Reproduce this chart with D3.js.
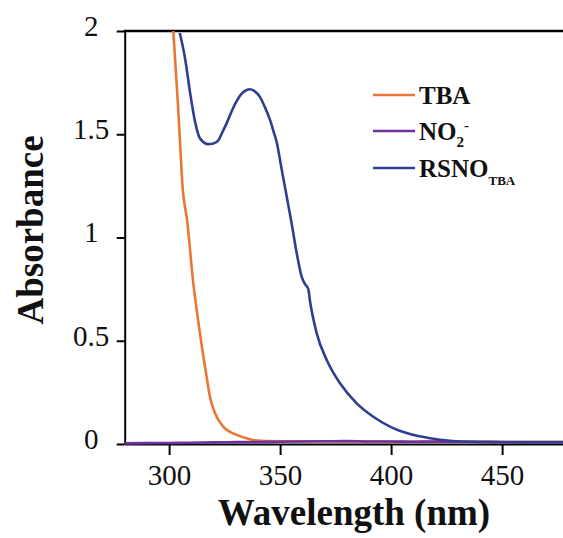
<!DOCTYPE html>
<html>
<head>
<meta charset="utf-8">
<script src="https://cdn.jsdelivr.net/npm/d3@7"></script>
</head>
<body style="margin:0">
<script>
// UV-vis spectra

// TBA (orange)
var tbaWavelength = [301.9, 304.0, 305.6, 306.0, 306.7, 307.9, 310.9, 313.9, 316.9, 318.4, 320.7, 324.4,
                     330.5, 336.4, 340.9, 360, 400, 440, 480];
var tbaAbs = [2.0, 1.641, 1.326, 1.254, 1.181, 1.100, 0.778, 0.536, 0.326, 0.229, 0.149, 0.084,
              0.044, 0.023, 0.016, 0.013, 0.011, 0.010, 0.010];

// NO2- (purple), almost flat near zero
var no2Wavelength = [280, 290, 300, 310, 320, 330, 340, 350, 360, 370, 380, 390, 400, 410, 420, 430, 440, 450, 460, 470, 480];
var no2Abs = [0.003, 0.004, 0.005, 0.006, 0.008, 0.009, 0.010, 0.011, 0.012, 0.013, 0.014, 0.012, 0.012,
              0.011, 0.012, 0.011, 0.011, 0.010, 0.010, 0.010, 0.010];

// RSNO_TBA (blue)
var rsnoWavelength = [304.8, 307.2, 309.4, 311.7, 313.9, 317.7, 320.0, 322.2, 324.0, 326.0, 328.0, 330.0,
                      332.0, 334.0, 336.4, 338.3, 340.9, 343.0, 345.5, 347.0, 348.5, 350.7, 353.0, 355.2,
                      357.5, 359.7, 361.2, 362.7, 363.5, 366.5, 371.0, 377.0, 384.5, 392.0, 399.5, 408.5,
                      417.5, 426.5, 440, 460, 480];
var rsnoAbs = [1.99, 1.867, 1.705, 1.560, 1.480, 1.452, 1.455, 1.471, 1.510, 1.555, 1.607, 1.652,
               1.688, 1.709, 1.718, 1.710, 1.681, 1.635, 1.568, 1.515, 1.460, 1.330, 1.197, 1.068,
               0.923, 0.810, 0.775, 0.750, 0.690, 0.536, 0.407, 0.294, 0.197, 0.132, 0.084, 0.048,
               0.028, 0.016, 0.010, 0.008, 0.008];

var xTicks = [300, 350, 400, 450];
var yTicks = [0, 0.5, 1, 1.5, 2];

var seriesNames = ["TBA", "NO2-", "RSNO_TBA"];
var seriesColors = ["#EB7535", "#7030A0", "#2F3E8F"];

var fontName = "'Liberation Serif'";

function zip(xs, ys) {
  return xs.map(function(x, i) { return [x, ys[i]]; });
}

var svgWidth = 563, svgHeight = 538;
var plotLeft = 124.7, plotTop = 31, plotBottom = 444, plotRight = 568.7;

var svg = d3.select("body")
            .append("svg")
            .attr("width", svgWidth)
            .attr("height", svgHeight)
            .style("display", "block")
            .style("font-family", fontName);

var xScale = d3.scaleLinear().domain([280, 480]).range([plotLeft, plotRight]);
var yScale = d3.scaleLinear().domain([0, 2]).range([plotBottom, plotTop]);

// clip lines to plot box
svg.append("clipPath")
   .attr("id", "plotclip")
   .append("rect")
   .attr("x", plotLeft)
   .attr("y", plotTop)
   .attr("width", plotRight - plotLeft)
   .attr("height", plotBottom - plotTop + 2);

// x axis
var xAxis = svg.append("g")
   .attr("transform", "translate(0," + plotBottom + ")")
   .call(d3.axisBottom(xScale).tickValues(xTicks).tickSize(11).tickSizeOuter(0));
xAxis.attr("font-family", null).attr("font-size", null);
xAxis.select(".domain").attr("stroke-width", 2);
xAxis.selectAll(".tick line").attr("stroke-width", 2);
xAxis.selectAll("text")
   .attr("y", 41)
   .attr("dy", null)
   .style("font-family", fontName)
   .style("font-size", "29px")
   .attr("fill", "#111");

// y axis
var yAxis = svg.append("g")
   .attr("transform", "translate(" + plotLeft + ",0)")
   .call(d3.axisLeft(yScale).tickValues(yTicks).tickSize(8).tickSizeOuter(0)
           .tickFormat(function(d) { return String(d); }));
yAxis.attr("font-family", null).attr("font-size", null);
yAxis.select(".domain").attr("stroke-width", 2);
yAxis.selectAll(".tick line").attr("stroke-width", 2);
yAxis.selectAll("text")
   .attr("x", -33.5)
   .attr("dy", "0.15em")
   .attr("text-anchor", "middle")
   .style("font-family", fontName)
   .style("font-size", "29px")
   .attr("fill", "#111");

// top border
svg.append("line")
   .attr("x1", plotLeft - 1).attr("x2", svgWidth)
   .attr("y1", plotTop).attr("y2", plotTop)
   .attr("stroke", "#000")
   .attr("stroke-width", 2.5);

// spectra
var line = d3.line()
   .x(function(d) { return xScale(d[0]); })
   .y(function(d) { return yScale(d[1]); })
   .curve(d3.curveMonotoneX);

var spectra = [zip(tbaWavelength, tbaAbs), zip(no2Wavelength, no2Abs), zip(rsnoWavelength, rsnoAbs)];

svg.append("g")
   .attr("clip-path", "url(#plotclip)")
   .selectAll("path")
   .data(spectra)
   .enter()
   .append("path")
   .attr("d", line)
   .attr("fill", "none")
   .attr("stroke", function(d, i) { return seriesColors[i]; })
   .attr("stroke-width", 2.6)
   .attr("stroke-linejoin", "round");

// axis titles
svg.append("text")
   .attr("x", 354)
   .attr("y", 525)
   .attr("text-anchor", "middle")
   .style("font-family", fontName)
   .attr("font-size", 37)
   .attr("font-weight", "bold")
   .attr("fill", "#111")
   .text("Wavelength (nm)");

svg.append("text")
   .attr("transform", "translate(43,230) rotate(-90)")
   .attr("text-anchor", "middle")
   .style("font-family", fontName)
   .attr("font-size", 37)
   .attr("font-weight", "bold")
   .attr("fill", "#111")
   .text("Absorbance");

// legend
var legendY = [95, 131, 168];
var legend = svg.append("g");
seriesNames.forEach(function(name, i) {
  legend.append("line")
    .attr("x1", 373).attr("x2", 415)
    .attr("y1", legendY[i]).attr("y2", legendY[i])
    .attr("stroke", seriesColors[i])
    .attr("stroke-width", 2.6);
});

function legendText(y) {
  return legend.append("text")
    .attr("x", 419).attr("y", y)
    .style("font-family", fontName)
    .attr("font-size", 25)
    .attr("font-weight", "bold")
    .attr("fill", "#111");
}

legendText(legendY[0] + 8.5).append("tspan").text("TBA");

var t1 = legendText(legendY[1] + 9);
t1.append("tspan").text("NO");
t1.append("tspan").attr("font-size", 15).attr("dy", 7).text("2");
t1.append("tspan").attr("font-size", 15).attr("dy", -17).text("-");

var t2 = legendText(legendY[2] + 8.5);
t2.append("tspan").text("RSNO");
t2.append("tspan").attr("font-size", 13).attr("dy", 8).text("TBA");
</script>
</body>
</html>
